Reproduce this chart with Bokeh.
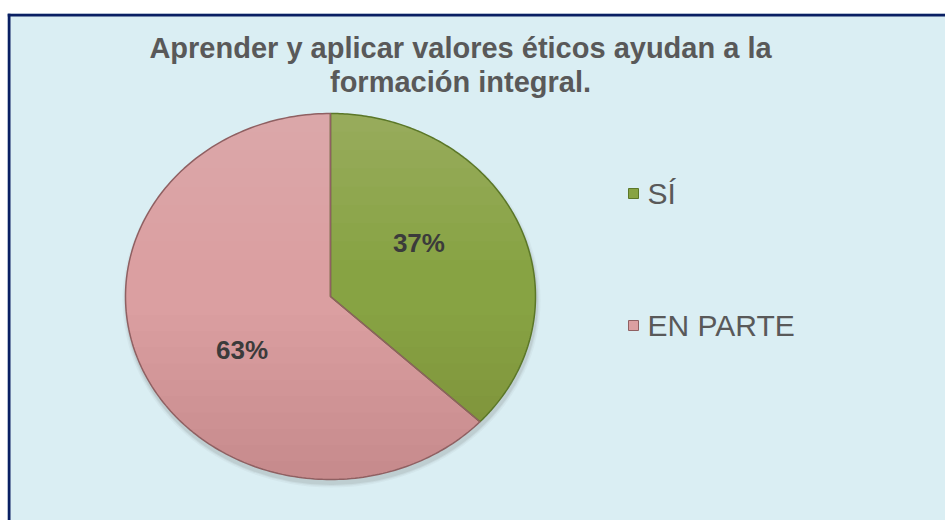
import numpy as np
from bokeh.plotting import figure
from bokeh.models import Range1d, ColumnDataSource, Span
from bokeh.core.properties import value
from bokeh.embed import file_html
from bokeh.resources import INLINE

# ---- data ----
categories = ["SÍ", "EN PARTE"]
percentages = [37, 63]
labels = ["37%", "63%"]
title_lines = ["Aprender y aplicar valores éticos ayudan a la", "formación integral."]
fill_colors = ["#87a343", "#db9fa1"]
edge_colors = ["#5b7728", "#8f6062"]

# ---- layout (page pixel coordinates, y downward) ----
W, H = 945, 520
LB, TB = 7, 13
p = figure(width=W, height=H, output_backend="svg", toolbar_location=None,
           x_range=Range1d(LB, W), y_range=Range1d(H, TB),
           min_border_left=LB, min_border_right=0, min_border_bottom=0, min_border_top=TB)
p.axis.visible = False
p.grid.visible = False
p.background_fill_color = "#daeef3"
p.border_fill_color = "white"
p.outline_line_color = None
p.add_layout(Span(location=8.5, dimension="height", line_color="#0a1f63", line_width=3))
p.add_layout(Span(location=14.5, dimension="width", line_color="#0a1f63", line_width=3))

cx, cy, rx, ry = 330, 296, 205, 183

# soft shadow
for k, a in [(8, 0.05), (5, 0.08), (3, 0.12)]:
    p.ellipse(x=cx + 1, y=cy + 4, width=2 * rx + k, height=2 * ry + k,
              fill_color="#6a6a6a", fill_alpha=a, line_color=None)

# slices from cumulative fractions (clockwise from top)
fr = np.array(percentages, dtype=float) / sum(percentages)
bounds = np.concatenate([[0], np.cumsum(fr)]) * 2 * np.pi
xs, ys = [], []
for a0, a1 in zip(bounds[:-1], bounds[1:]):
    t = np.linspace(a0, a1, 200)
    xs.append(np.concatenate([[cx], cx + rx * np.sin(t), [cx]]))
    ys.append(np.concatenate([[cy], cy - ry * np.cos(t), [cy]]))
src = ColumnDataSource(dict(xs=xs, ys=ys, fill=fill_colors, edge=edge_colors))
p.patches("xs", "ys", source=src, fill_color="fill", line_color=None)

# vertical shading (stacked translucent caps of the ellipse)
def cap(y_cut, below):
    if below:
        t = np.linspace(np.arccos(np.clip((y_cut - cy) / ry, -1, 1)), 0, 80)
    else:
        t = np.linspace(np.pi, np.arccos(np.clip((y_cut - cy) / ry, -1, 1)), 80)
    xr = cx + rx * np.sin(t)
    yr = cy + ry * np.cos(t)
    return (np.concatenate([xr, (2 * cx - xr)[::-1]]),
            np.concatenate([yr, yr[::-1]]))

dx, dy = [], []
for f in np.linspace(0.1, 0.9, 10):
    a, b = cap(cy + f * ry, True)
    dx.append(a); dy.append(b)
p.patches(dx, dy, fill_color="#3a1010", fill_alpha=0.012, line_color=None)
lxs, lys = [], []
for f in np.linspace(-0.9, -0.2, 8):
    a, b = cap(cy + f * ry, False)
    lxs.append(a); lys.append(b)
p.patches(lxs, lys, fill_color="white", fill_alpha=0.018, line_color=None)

# slice edges on top
p.patches("xs", "ys", source=src, fill_color=None, line_color="edge", line_width=1.5)

# data labels
mid = [(a0 + a1) / 2 for a0, a1 in zip(bounds[:-1], bounds[1:])]
lx = [cx + 0.47 * rx * np.sin(m) for m in mid]
ly = [cy - 0.74 * ry * np.cos(m) for m in mid]
p.text(x=lx, y=ly, text=labels, text_align="center", text_baseline="middle",
       text_font=value("Liberation Sans"), text_font_style="bold",
       text_font_size="26px", text_color="#3b3b3b")

# title
p.text(x=[460, 460], y=[47, 81], text=title_lines, text_align="center",
       text_baseline="middle", text_font=value("Liberation Sans"),
       text_font_style="bold", text_font_size="29px", text_color="#595959")

# legend
leg_y = [193, 325]
p.scatter(x=[633, 633], y=leg_y, marker="square", size=10,
          fill_color=fill_colors, line_color=edge_colors, line_width=1)
p.text(x=[647, 647], y=leg_y, text=categories, text_align="left",
       text_baseline="middle", text_font=value("Liberation Sans"),
       text_font_size="30px", text_color="#595959")

open("out.html", "w").write(file_html(p, INLINE))
